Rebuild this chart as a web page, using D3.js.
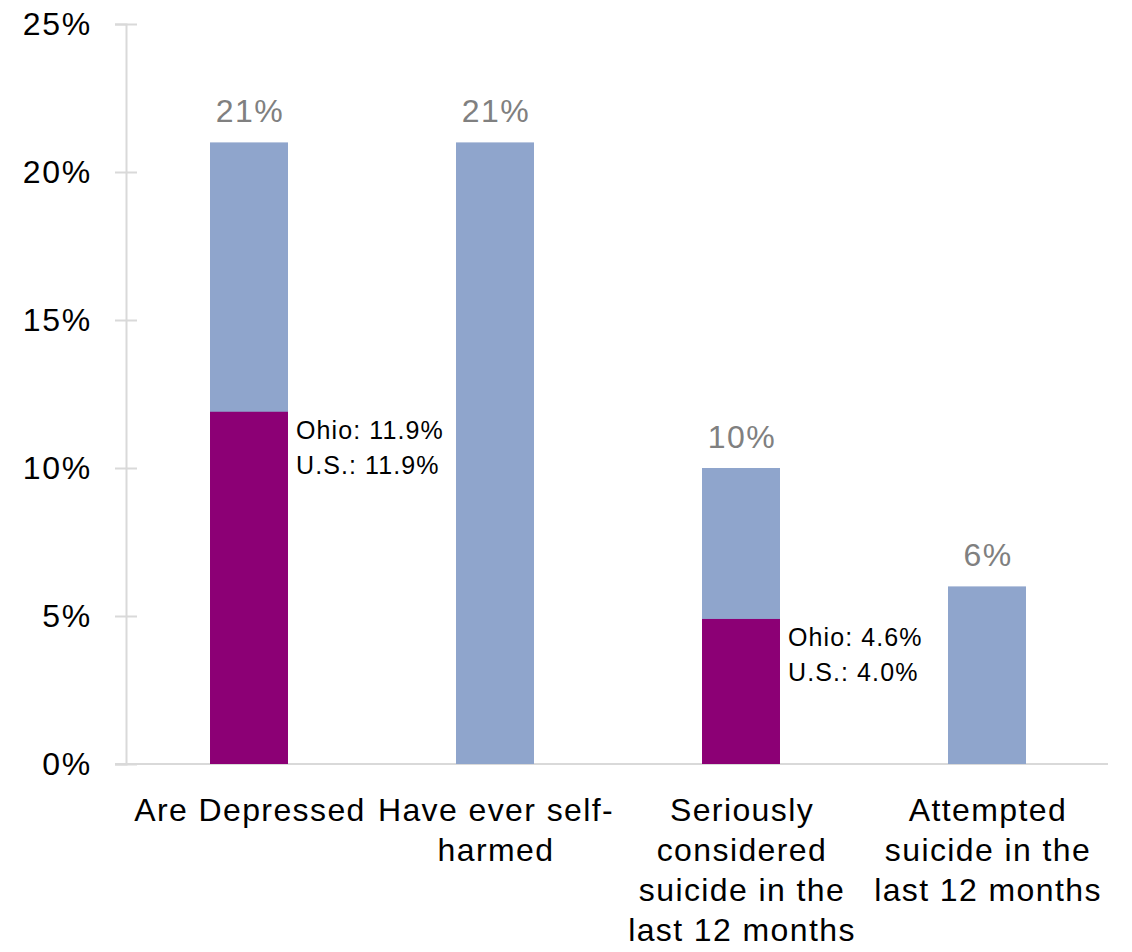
<!DOCTYPE html>
<html>
<head>
<meta charset="utf-8">
<script src="https://cdn.jsdelivr.net/npm/d3@7"></script>
<style>
  body { margin: 0; background: #fff; }
  text { font-family: "Liberation Sans", Arial, sans-serif; }
</style>
</head>
<body>
<div id="chart"></div>
<script>
// data
var categories = ["Are Depressed", "Have ever self-\nharmed", "Seriously\nconsidered\nsuicide in the\nlast 12 months", "Attempted\nsuicide in the\nlast 12 months"];
var totalValues = [21, 21, 10, 6];        // blue bars
var ohioValues = [11.9, null, 4.9, null];  // purple bars
var ohioLabels = ["Ohio: 11.9%", null, "Ohio: 4.6%", null];
var usLabels = ["U.S.: 11.9%", null, "U.S.: 4.0%", null];
var yTicks = [0, 5, 10, 15, 20, 25];

var W = 1132, H = 952;
var margin = { top: 24, right: 22, bottom: 188, left: 126 };

var svg = d3.select("#chart").append("svg")
  .attr("width", W)
  .attr("height", H);

var x = d3.scaleBand()
  .domain(categories)
  .range([margin.left, W - margin.right])
  .paddingInner(0.683)
  .paddingOuter(0.3415);

var y = d3.scaleLinear()
  .domain([0, 25])
  .range([H - margin.bottom, margin.top]);

// y axis
var yAxis = svg.append("g")
  .attr("transform", "translate(" + margin.left + ",0)")
  .call(d3.axisLeft(y).tickValues(yTicks).tickSize(11).tickPadding(23)
    .tickFormat(function(d) { return d + "%"; }));
yAxis.select(".domain").attr("stroke", "#d9d9d9").attr("stroke-width", 2);
yAxis.selectAll(".tick line").attr("x1", 11).attr("stroke", "#d9d9d9").attr("stroke-width", 2);
yAxis.selectAll(".tick text")
  .style("font-size", "32px")
  .style("letter-spacing", "1.7px")
  .attr("fill", "#000");

// baseline
svg.append("line")
  .attr("x1", margin.left - 11)
  .attr("x2", W - margin.right - 2)
  .attr("y1", y(0))
  .attr("y2", y(0))
  .attr("stroke", "#d9d9d9")
  .attr("stroke-width", 2);

// blue bars
svg.selectAll("rect.total")
  .data(categories)
  .enter().append("rect")
  .attr("class", "total")
  .attr("x", function(d) { return x(d); })
  .attr("width", x.bandwidth())
  .attr("y", function(d, i) { return y(totalValues[i]); })
  .attr("height", function(d, i) { return y(0) - y(totalValues[i]); })
  .attr("fill", "#8fa5cc");

// purple bars (Ohio)
svg.selectAll("rect.ohio")
  .data(categories.filter(function(d, i) { return ohioValues[i] != null; }))
  .enter().append("rect")
  .attr("class", "ohio")
  .attr("x", function(d) { return x(d); })
  .attr("width", x.bandwidth())
  .attr("y", function(d) { return y(ohioValues[categories.indexOf(d)]); })
  .attr("height", function(d) { return y(0) - y(ohioValues[categories.indexOf(d)]); })
  .attr("fill", "#8c0075");

// value labels
svg.selectAll("text.val")
  .data(categories)
  .enter().append("text")
  .attr("class", "val")
  .attr("x", function(d) { return x(d) + x.bandwidth() / 2 + 1; })
  .attr("y", function(d, i) { return y(totalValues[i]) - 20; })
  .attr("text-anchor", "middle")
  .style("font-size", "32px")
  .style("letter-spacing", "1.5px")
  .attr("fill", "#808080")
  .text(function(d, i) { return totalValues[i] + "%"; });

// Ohio / U.S. annotations
categories.forEach(function(c, i) {
  if (ohioValues[i] == null) return;
  var ax = x(c) + x.bandwidth() + 8;
  var t = svg.append("text")
    .attr("y", y(ohioValues[i]) + 27)
    .style("font-size", "25px")
    .style("letter-spacing", "1.1px")
    .attr("fill", "#000");
  t.append("tspan").attr("x", ax).text(ohioLabels[i]);
  t.append("tspan").attr("x", ax).attr("dy", 35).text(usLabels[i]);
});

// category labels
categories.forEach(function(c) {
  var lines = c.split("\n");
  var t = svg.append("text")
    .attr("text-anchor", "middle")
    .attr("y", y(0) + 57)
    .style("font-size", "32px")
    .style("letter-spacing", "1.4px")
    .attr("fill", "#000");
  lines.forEach(function(l, j) {
    t.append("tspan")
      .attr("x", x(c) + x.bandwidth() / 2 + 1)
      .attr("dy", j == 0 ? 0 : 40)
      .text(l);
  });
});
</script>
</body>
</html>
